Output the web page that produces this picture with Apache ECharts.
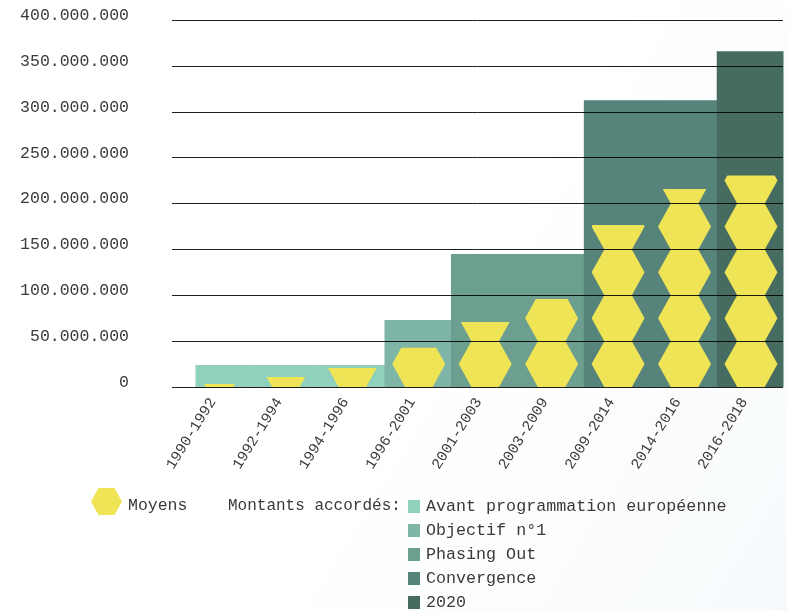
<!DOCTYPE html>
<html>
<head>
<meta charset="utf-8">
<style>html,body{margin:0;padding:0;background:#fff}#c{width:787px;height:611px}</style>
<script src="https://cdn.jsdelivr.net/npm/echarts@6/dist/echarts.min.js"></script>
</head>
<body>
<div id="c"></div>
<script>
const categories = ['1990-1992','1992-1994','1994-1996','1996-2001','2001-2003','2003-2009','2009-2014','2014-2016','2016-2018'];
const moyens = [3300000, 10800000, 20700000, 42800000, 70800000, 96000000, 176500000, 215700000, 230600000];
const avant = [24000000, 24000000, 24000000, null, null, null, null, null, null];
const objectif = [null, null, null, 73000000, null, null, null, null, null];
const phasing = [null, null, null, null, 145000000, 145000000, null, null, null];
const convergence = [null, null, null, null, null, null, 312500000, 312500000, null];
const vingt = [null, null, null, null, null, null, null, null, 366000000];
const yTicks = [0, 50000000, 100000000, 150000000, 200000000, 250000000, 300000000, 350000000, 400000000];
const yMax = yTicks[yTicks.length - 1];

const hexPath = 'path://M24 0 L76 0 L100 50 L76 100 L24 100 L0 50 Z';
const FONT = '"Liberation Mono"';
const TXT = '#3a3a3a';
const fmt = v => v === 0 ? '0' : String(v).replace(/\B(?=(\d{3})+$)/g, '.');

function barSeries(name, data, color) {
  return { name, type: 'bar', xAxisIndex: 1, yAxisIndex: 1, data, barWidth: '101%', barGap: '-100%',
    itemStyle: { color }, z: 1, silent: true };
}

const chart = echarts.init(document.getElementById('c'), null, { renderer: 'canvas' });
chart.setOption({
  animation: false,
  backgroundColor: {
    type: 'linear', x: 0.5, y: 0.6, x2: 1, y2: 1,
    colorStops: [{ offset: 0, color: '#ffffff' }, { offset: 1, color: '#f7fafc' }]
  },
  textStyle: { fontFamily: FONT },
  grid: [
    { left: 172, right: 4, top: 20, height: 367 },
    { left: 185.5, right: 3.5, top: 20, height: 367 }
  ],
  xAxis: [
    { type: 'value', gridIndex: 0, show: false, min: 0, max: 1 },
    { type: 'category', gridIndex: 1, data: categories,
      axisLine: { show: false }, axisTick: { show: false },
      axisLabel: { rotate: 58, interval: 0, margin: 16, color: TXT, fontFamily: FONT, fontSize: 15,
        verticalAlign: 'bottom', lineHeight: 14 } }
  ],
  yAxis: [
    { type: 'value', gridIndex: 0, min: 0, max: yMax, interval: yTicks[1], z: 5,
      axisLine: { show: false }, axisTick: { show: false },
      axisLabel: { margin: 43, color: TXT, fontFamily: FONT, fontSize: 16.5, formatter: fmt,
        verticalAlign: 'bottom', lineHeight: 9 },
      splitLine: { show: true, lineStyle: { color: 'rgba(0,0,0,0.88)', width: 1 } } },
    { type: 'value', gridIndex: 1, min: 0, max: yMax, interval: yTicks[1], show: false, splitLine: { show: false } }
  ],
  legend: [
    { data: [{ name: 'Moyens', icon: hexPath }], left: 91, top: 488, itemWidth: 31, itemHeight: 27, itemGap: 0,
      symbolKeepAspect: false, selectedMode: false, padding: 0, formatter: '{m|{name}}',
      textStyle: { color: TXT, fontFamily: FONT, fontSize: 16.5,
        rich: { m: { color: TXT, fontFamily: FONT, fontSize: 16.5, padding: [8, 0, 0, 1] } } } },
    { data: ['Avant programmation européenne', 'Objectif n°1', 'Phasing Out', 'Convergence', '2020'],
      orient: 'vertical', left: 408, top: 498, itemWidth: 12, itemHeight: 13, itemGap: 7, padding: 0,
      icon: 'rect', selectedMode: false, formatter: '{t|{name}}',
      textStyle: { color: TXT, fontFamily: FONT, fontSize: 16.7,
        rich: { t: { color: TXT, fontFamily: FONT, fontSize: 16.7, padding: [0, 0, 0, 1] } } } }
  ],
  graphic: [
    { type: 'text', left: 228, top: 498, silent: true,
      style: { text: 'Montants accordés:', fill: TXT, font: '16px ' + FONT } }
  ],
  series: [
    { name: 'Avant programmation européenne', type: 'pictorialBar', xAxisIndex: 1, yAxisIndex: 1, z: 1, silent: true,
      barCategoryGap: '0%', symbol: 'rect', symbolPosition: 'start', symbolSize: ['101%', '100%'],
      itemStyle: { color: '#90d1bd' },
      data: avant.map((v, i) => i === 0
        ? { value: v, symbolSize: ['85%', '100%'], symbolOffset: ['8.85%', 0] } : v) },
    barSeries('Objectif n°1', objectif, '#7fb5a6'),
    barSeries('Phasing Out', phasing, '#6c9f90'),
    barSeries('Convergence', convergence, '#56837a'),
    barSeries('2020', vingt, '#466c62'),
    { name: 'Moyens', type: 'pictorialBar', xAxisIndex: 1, yAxisIndex: 1, z: 3, silent: true,
      symbol: hexPath, symbolRepeat: 'fixed', symbolClip: true, symbolMargin: 0, symbolOffset: [0.7, 0],
      symbolSize: [53, 45.875], symbolBoundingData: yMax, symbolPosition: 'start',
      itemStyle: { color: '#efe455' }, data: moyens }
  ]
});
</script>
</body>
</html>
